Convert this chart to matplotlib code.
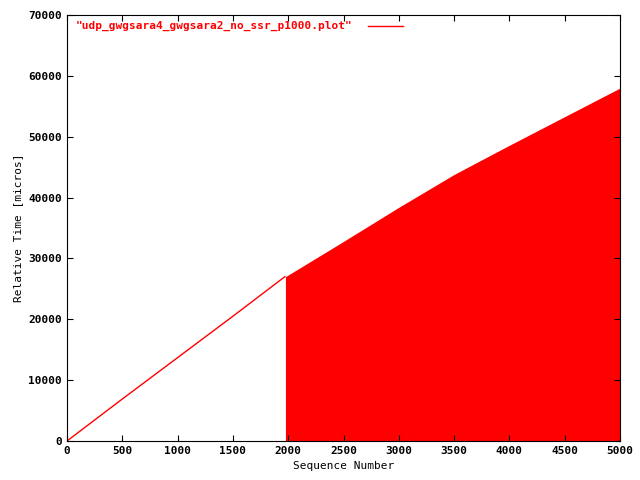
import matplotlib
matplotlib.use("Agg")
import matplotlib.pyplot as plt

line_x = [0, 500, 1000, 1500, 1970]
line_y = [0, 6900, 13700, 20500, 27000]
fill_x = [1975, 2500, 3000, 3500, 4000, 4500, 5000]
fill_y = [27000, 32800, 38400, 43800, 48600, 53300, 58000]
label = '"udp_gwgsara4_gwgsara2_no_ssr_p1000.plot"'

plt.rcParams['font.family'] = 'DejaVu Sans Mono'
plt.rcParams['font.size'] = 8
plt.rcParams['font.weight'] = 'bold'

fig = plt.figure(figsize=(6.4, 4.8), dpi=100)
ax = fig.add_axes([67/640, 1-441/480, (620-67)/640, (441-15)/480])
ax.plot(line_x, line_y, color='red', lw=1)
ax.fill_between(fill_x, 0, fill_y, color='red', lw=0)
ax.set_xlim(0, 5000)
ax.set_ylim(0, 70000)
ax.set_xticks(range(0, 5001, 500))
ax.set_yticks(range(0, 70001, 10000))
ax.tick_params(direction='in', top=True, right=True, length=4)
ax.set_xlabel('Sequence Number')
ax.set_ylabel('Relative Time [micros]')
ax.text(0.015, 0.975, label, transform=ax.transAxes, color='red', va='center', ha='left')
ax.plot([0.545, 0.607], [0.975, 0.975], transform=ax.transAxes, color='red', lw=1)
fig.savefig('out.png', dpi=100)
